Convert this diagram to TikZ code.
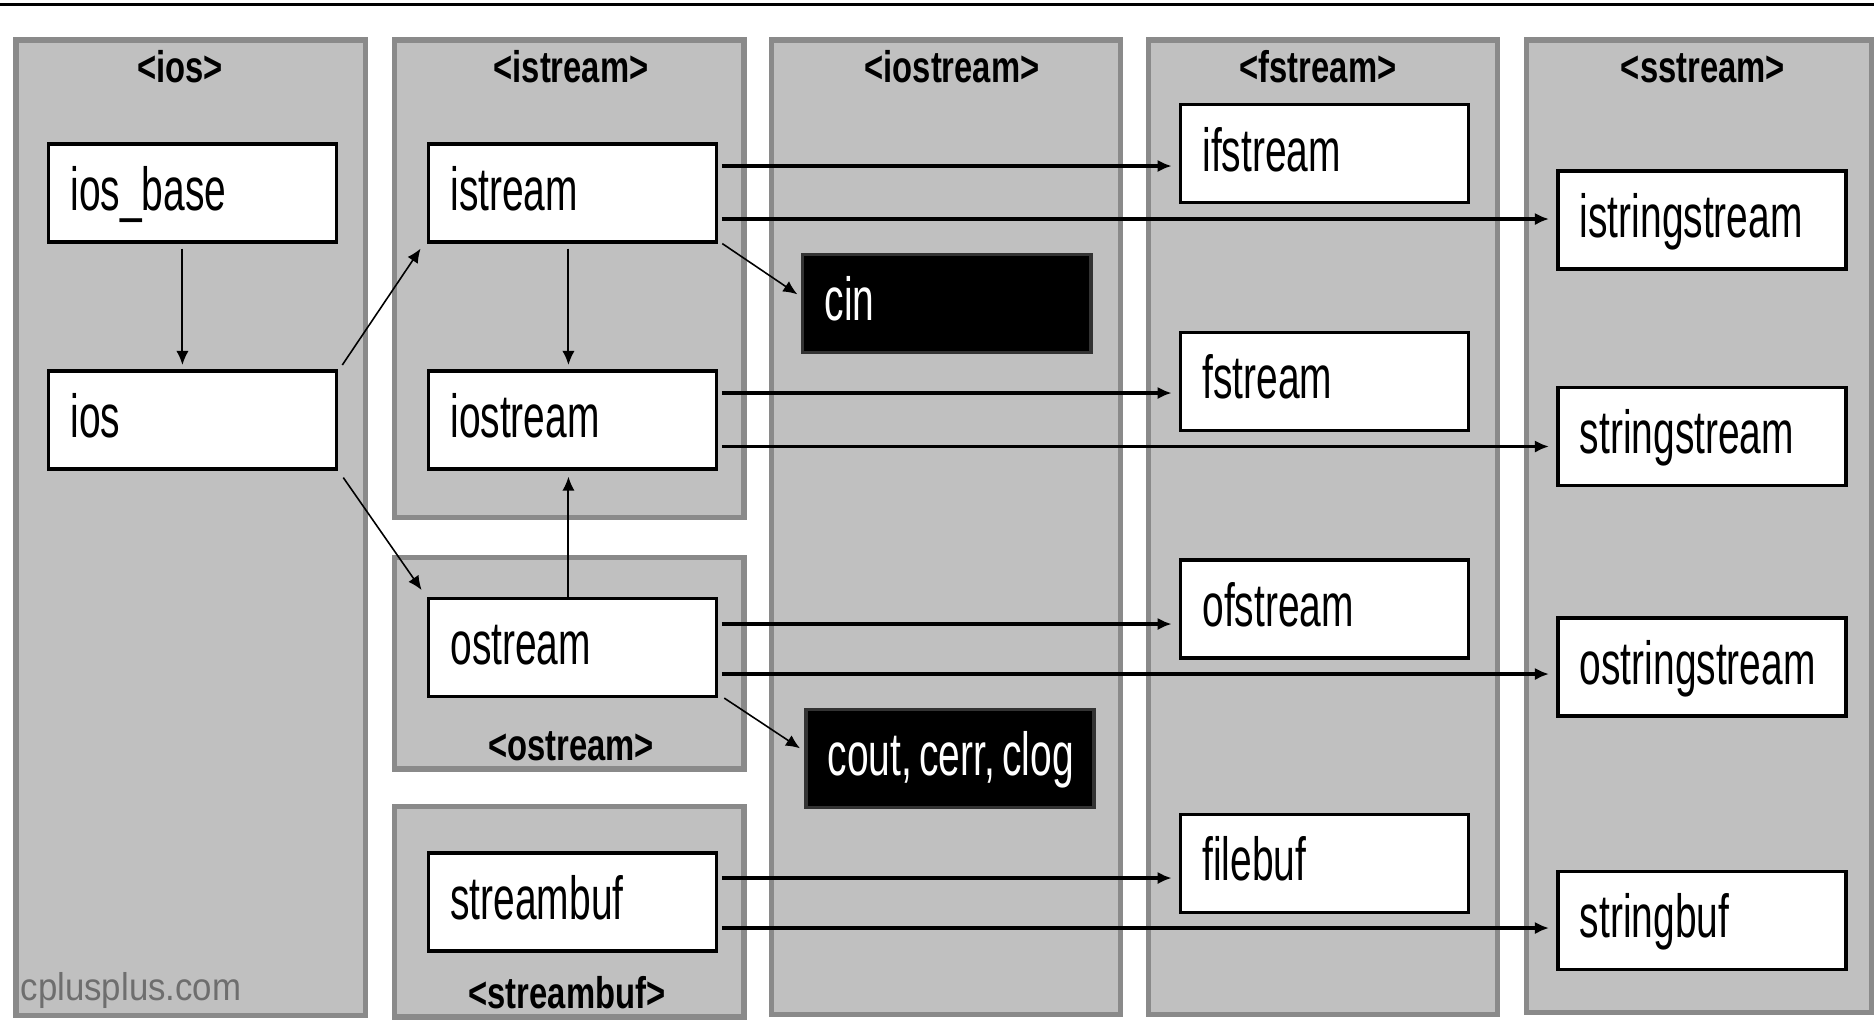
\documentclass[tikz,border=0pt]{standalone}
\usepackage{fontspec}
\usepackage{tikz}
\usetikzlibrary{arrows.meta,positioning,calc}
\newfontfamily\labelfont[FakeStretch=0.64]{Liberation Sans}
\newfontfamily\headfont[FakeStretch=0.74]{Liberation Sans}
\newfontfamily\markfont[FakeStretch=0.9]{Liberation Sans}
\definecolor{panel}{RGB}{192,192,192}
\definecolor{panelrim}{RGB}{138,138,138}
\definecolor{wmark}{RGB}{110,110,110}
\frenchspacing
\newcommand\tightwords{\spaceskip=0.12em\relax}

\tikzset{
  panelbox/.style={draw=panelrim, fill=panel, line width=1.5pt},
  header/.style={anchor=base, inner sep=0pt, font=\headfont\bfseries\fontsize{12.6}{14}\selectfont},
  cls/.style={draw, fill=white, line width=1pt, anchor=north west,
    minimum width=2.88cm, minimum height=0.98cm, text width=2.44cm,
    align=left, inner xsep=0.22cm, inner ysep=0pt, text height=15pt, text depth=5pt,
    font=\labelfont\fontsize{17.3}{20}\selectfont},
  obj/.style={cls, fill=black, draw=black!80, text=white},
  inh/.style={-{Latex[length=4pt,width=3.5pt]}, line width=0.55pt},
  inst/.style={-{Latex[length=4pt,width=3.5pt]}, line width=0.45pt},
  uses/.style={-{Latex[length=4pt,width=3.5pt]}, line width=0.9pt, shorten <=1pt, shorten >=2pt},
}

\begin{document}
\begin{tikzpicture}[x=0.01cm, y=-0.01cm]
\useasboundingbox (0,0) rectangle (1874,1023);
\draw[line width=1pt] (0,4.3) -- (1874,4.3);

% header panels
\draw[panelbox] (16,40) rectangle (365.5,1015.5);
\draw[panelbox] (394.5,40) rectangle (744,517.5);
\draw[panelbox] (394.5,557.5) rectangle (744,769);
\draw[panelbox] (394.5,806.5) rectangle (744,1017);
\draw[panelbox] (771.5,40) rectangle (1120.5,1014.5);
\draw[panelbox] (1148.5,40) rectangle (1497.5,1014.5);
\draw[panelbox] (1526.5,40) rectangle (1871.5,1012.5);

\node[header] (hios) at (180,82) {<ios>};
\node[header] (histream) at (571,82) {<istream>};
\node[header] (hiostream) at (952,82) {<iostream>};
\node[header] (hfstream) at (1318,82) {<fstream>};
\node[header] (hsstream) at (1703,82) {<sstream>};
\node[header] (hostream) at (571,760) {<ostream>};
\node[header] (hstreambuf) at (567,1008) {<streambuf>};

\node[anchor=base west, inner sep=0pt, text=wmark,
  font=\markfont\fontsize{11}{12}\selectfont] (brand) at (20,1000) {cplusplus.com};

% classes
\node[cls] (iosbase) at (46.6,142) {ios\_base};
\node[cls] (ios) at (46.6,369) {ios};
\node[cls] (istream) at (426.6,142) {istream};
\node[cls] (iostream) at (426.6,369) {iostream};
\node[cls] (ostream) at (426.6,596.5) {ostream};
\node[cls] (streambuf) at (426.6,851) {streambuf};
\node[obj] (cin) at (800.8,252.5) {cin};
\node[obj] (cout) at (804,707.5) {\mbox{\tightwords cout, cerr, clog}};
\node[cls] (ifstream) at (1178.7,102.7) {ifstream};
\node[cls] (fstream) at (1178.7,330.5) {fstream};
\node[cls] (ofstream) at (1178.7,558.3) {ofstream};
\node[cls] (filebuf) at (1178.7,812.5) {filebuf};
\node[cls] (isstream) at (1556,169) {istringstream};
\node[cls] (sstream) at (1556,385.5) {stringstream};
\node[cls] (osstream) at (1556,616) {ostringstream};
\node[cls] (stringbuf) at (1556,869.5) {stringbuf};

% inheritance
\draw[inh] ([shift={(-10,5)}]iosbase.south) -- ([shift={(-10,-4)}]ios.north);
\draw[inh] ([shift={(-4,5)}]istream.south) -- ([shift={(-4,-4)}]iostream.north);
\draw[inh] ([shift={(-4,0)}]ostream.north) -- ([shift={(-4,6)}]iostream.south);
\draw[inst] ([shift={(4,-4)}]ios.north east) -- ([shift={(-6,5)}]istream.south west);
\draw[inst] ([shift={(5,7)}]ios.south east) -- ([shift={(-5,-6.5)}]ostream.north west);
\draw[inst] ([shift={(4,0)}]istream.south east) -- ([shift={(-3.5,-9)}]cin.west);
\draw[inst] ([shift={(6,0)}]ostream.south east) -- ([shift={(-4,-10)}]cout.west);

\foreach \src/\dst/\dy in {istream/ifstream/24, istream/isstream/77,
    iostream/fstream/24, iostream/sstream/77.5, ostream/ofstream/27.5,
    ostream/osstream/77.5, streambuf/filebuf/27, streambuf/stringbuf/77}
  \draw[uses] ([shift={(0,\dy)}]\src.north east) coordinate (p) -- (p -| \dst.west);
\end{tikzpicture}
\end{document}
